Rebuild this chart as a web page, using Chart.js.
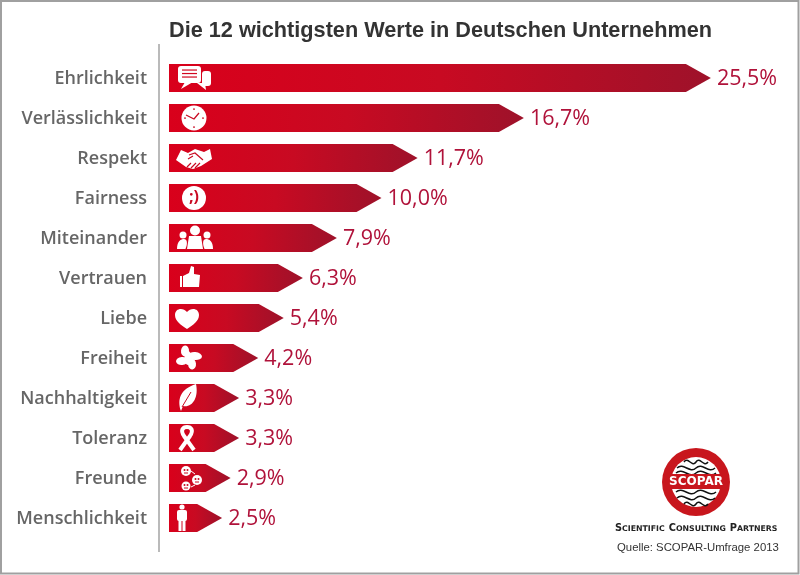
<!DOCTYPE html>
<html><head><meta charset="utf-8">
<script src="https://cdn.jsdelivr.net/npm/chart.js@4"></script>
<style>
html,body{margin:0;padding:0;background:#fff;overflow:hidden}
#wrap{position:relative;width:800px;height:575px}
canvas{display:block}
</style></head><body>
<div id="wrap"><canvas id="c" width="800" height="575"></canvas></div>
<script>
const categories=["Ehrlichkeit","Verlässlichkeit","Respekt","Fairness","Miteinander","Vertrauen","Liebe","Freiheit","Nachhaltigkeit","Toleranz","Freunde","Menschlichkeit"];
const values=[25.5,16.7,11.7,10.0,7.9,6.3,5.4,4.2,3.3,3.3,2.9,2.5];
const valueLabels=["25,5%","16,7%","11,7%","10,0%","7,9%","6,3%","5,4%","4,2%","3,3%","3,3%","2,9%","2,5%"];
const titleText="Die 12 wichtigsten Werte in Deutschen Unternehmen";
const sourceText="Quelle: SCOPAR-Umfrage 2013";

function circle(c,x,y,r){c.beginPath();c.arc(x,y,r,0,Math.PI*2);c.fill();}
const icons=[
 function(c){ // speech bubbles
  c.beginPath();c.roundRect(-16,-12,23,17,3);c.fill();
  c.beginPath();c.moveTo(-9,4);c.lineTo(-13,11);c.lineTo(-1,4);c.fill();
  c.beginPath();c.roundRect(8,-7,9,15,3);c.fill();
  c.beginPath();c.moveTo(3,5);c.lineTo(12,12);c.lineTo(11,5);c.fill();
  c.strokeStyle="#d2061f";c.lineWidth=1.2;
  [-8,-4.5,-1].forEach(y=>{c.beginPath();c.moveTo(-12,y);c.lineTo(3,y);c.stroke();});
 },
 function(c){ // clock
  circle(c,0,0,12.5);c.strokeStyle="#c90a22";c.lineWidth=1.3;
  c.beginPath();c.moveTo(-8,-3);c.lineTo(0,1);c.lineTo(5,-5);c.stroke();
  [[0,-9],[0,9],[9,0],[-9,0]].forEach(p=>{c.fillStyle="#c90a22";circle(c,p[0],p[1],.9);});
 },
 function(c){ // handshake
  c.beginPath();c.moveTo(-18,2);c.lineTo(-13,-8);c.lineTo(-6,-5);c.lineTo(1,-9);c.lineTo(10,-6);c.lineTo(16,-9);c.lineTo(18,1);
  c.lineTo(7,8);c.lineTo(-1,11);c.lineTo(-8,9);c.closePath();c.fill();
  c.strokeStyle="#c90a22";c.lineWidth=1.2;
  c.beginPath();c.moveTo(-5,-3);c.lineTo(1,-5);c.lineTo(9,2);c.moveTo(-6,1);c.lineTo(-1,-2);
  c.moveTo(-3,10);c.lineTo(2,5);c.moveTo(1,10);c.lineTo(6,5);c.moveTo(-7,9);c.lineTo(-3,5);c.stroke();
 },
 function(c){ // wink
  circle(c,0,0,12);c.fillStyle="#c90a22";c.font="bold 16px 'Open Sans'";c.textAlign="center";c.textBaseline="middle";
  c.fillText(";)",0,-1);
 },
 function(c){ // people
  circle(c,0,-7.5,5);circle(c,-12,-3,3.5);circle(c,12,-3,3.5);
  c.beginPath();c.moveTo(-8,11);c.lineTo(-6,-2);c.lineTo(6,-2);c.lineTo(8,11);c.closePath();c.fill();
  c.beginPath();c.moveTo(-18,11);c.bezierCurveTo(-18,3,-14,1,-11,1);c.bezierCurveTo(-8,1,-7,5,-9.5,11);c.closePath();c.fill();
  c.beginPath();c.moveTo(18,11);c.bezierCurveTo(18,3,14,1,11,1);c.bezierCurveTo(8,1,7,5,9.5,11);c.closePath();c.fill();
 },
 function(c){ // thumb
  c.beginPath();c.rect(-10,-2,2,11);c.fill();
  c.beginPath();c.moveTo(-7,-2);c.lineTo(-1,-5);c.lineTo(1,-12);c.lineTo(4,-11);c.lineTo(4,-4);c.lineTo(10,-3);c.lineTo(9,9);c.lineTo(-7,9);c.closePath();c.fill();
 },
 function(c){ // heart
  c.beginPath();c.moveTo(0,11);c.bezierCurveTo(-6,7,-12,3,-12,-3);c.bezierCurveTo(-12,-10,-4,-11,0,-6);
  c.bezierCurveTo(4,-11,12,-10,12,-3);c.bezierCurveTo(12,3,6,7,0,11);c.fill();
 },
 function(c){ // butterfly
  c.beginPath();c.ellipse(-4,-7,4,5.5,.1,0,7);c.fill();
  c.beginPath();c.ellipse(6,-2,7,4,.1,0,7);c.fill();
  c.beginPath();c.ellipse(-7,3,6,4,-.1,0,7);c.fill();
  c.beginPath();c.ellipse(3,6,4,5.5,-.1,0,7);c.fill();
  c.beginPath();c.ellipse(-1,0,3.5,7,0,0,7);c.fill();
 },
 function(c){ // leaf
  c.beginPath();c.moveTo(-7,13);c.bezierCurveTo(-11,2,-8,-9,8,-14);c.bezierCurveTo(11,0,4,10,-5,8);c.closePath();c.fill();
  c.strokeStyle="#c90a22";c.lineWidth=1;c.beginPath();c.moveTo(-6,9);c.lineTo(3,-6);c.stroke();
 },
 function(c){ // ribbon
  c.lineWidth=4;c.strokeStyle="#fff";
  c.beginPath();c.moveTo(-7,12);c.lineTo(3,-2);c.bezierCurveTo(7,-8,4,-11,0,-11);c.bezierCurveTo(-4,-11,-7,-8,-3,-2);c.lineTo(7,12);c.stroke();
 },
 function(c){ // friends
  const f=[[-2,-7,5],[9,2,5],[-2,8,4.5]];
  c.strokeStyle="#fff";c.lineWidth=1;
  c.beginPath();c.moveTo(3,-7);c.lineTo(7,-4);c.moveTo(3,9);c.lineTo(7,7);c.stroke();
  f.forEach(p=>{c.fillStyle="#fff";circle(c,p[0],p[1],p[2]);c.fillStyle="#c90a22";circle(c,p[0]-1.5,p[1]-1,1);circle(c,p[0]+1.5,p[1]-1,1);
    c.fillRect(p[0]-2,p[1]+1.5,4,1);});
 },
 function(c){ // person
  circle(c,0,-11,2.6);
  c.beginPath();c.roundRect(-5,-8,10,11,2);c.fill();
  c.fillRect(-3.5,2,3,11);c.fillRect(.5,2,3,11);
 }
];
const iconX=[25,25,25,25,26,21,18,20,19,18,19,13];

const arrowBars={
 id:"arrowBars",
 afterLayout(chart){
  chart.titleBlock.left=169;chart.titleBlock.right=712;
 },
 beforeDatasetDraw(chart,args){
  const c=chart.ctx,meta=args.meta,y=chart.scales.y;
  c.save();
  c.strokeStyle="#8c8c8c";c.lineWidth=1.2;
  c.beginPath();c.moveTo(chart.chartArea.left,y.top-14);c.lineTo(chart.chartArea.left,y.bottom+14);c.stroke();
  meta.data.forEach((bar,i)=>{
   const h=bar.height/2,head=25;
   const g=c.createLinearGradient(bar.base,0,bar.x,0);
   g.addColorStop(0,"#d9001b");g.addColorStop(.5,"#c80a22");g.addColorStop(1,"#9e122a");
   c.fillStyle=g;
   c.beginPath();c.moveTo(bar.base,bar.y-h);c.lineTo(bar.x-head,bar.y-h);c.lineTo(bar.x,bar.y);
   c.lineTo(bar.x-head,bar.y+h);c.lineTo(bar.base,bar.y+h);c.closePath();c.fill();
   c.fillStyle="#b0123a";c.font="21.5px 'Open Sans'";c.textAlign="left";c.textBaseline="middle";
   c.fillText(valueLabels[i],bar.x+6,bar.y+1);
   c.save();c.translate(bar.base+iconX[i],bar.y);c.fillStyle="#fff";icons[i](c);c.restore();
  });
  c.restore();
  return false;
 },
 afterDraw(chart){
  const c=chart.ctx;c.save();
  // frame
  c.strokeStyle="#a0a0a0";c.lineWidth=2;c.strokeRect(1,1,797.5,572.5);
  // logo
  const x=696,y=482;
  c.fillStyle="#c8161d";circle(c,x,y,34);
  c.fillStyle="#fff";circle(c,x,y,25);
  c.strokeStyle="#111";c.lineWidth=1.5;
  [[-20,12],[-14,19],[-9,20],[10,20],[16,19],[22,12]].forEach(o=>{
   const w=o[1],m=y+o[0];
   c.beginPath();c.moveTo(x-w,m);
   c.bezierCurveTo(x-w*.66,m-6,x-w*.33,m+6,x,m);
   c.bezierCurveTo(x+w*.33,m-6,x+w*.66,m+6,x+w,m);c.stroke();
  });
  c.fillStyle="#c8161d";c.fillRect(x-33,y-8,66,15);
  c.fillStyle="#fff";c.font="bold 12px 'DejaVu Sans'";c.textAlign="center";c.textBaseline="middle";
  c.fillText("SCOPAR",x,y);
  c.fillStyle="#222";c.textAlign="left";c.textBaseline="alphabetic";
  let px=615;
  "Scientific Consulting Partners".split(" ").forEach(w=>{
   c.font="bold 9.8px 'DejaVu Sans'";c.fillText(w[0],px,531);px+=c.measureText(w[0]).width;
   c.font="bold 7.8px 'DejaVu Sans'";const r=w.slice(1).toUpperCase();c.fillText(r,px,531);px+=c.measureText(r).width+4;
  });
  c.fillStyle="#333";c.font="11.35px 'Liberation Sans'";c.fillText(sourceText,617,551);
  c.restore();
 }
};

new Chart(document.getElementById("c"),{
 type:"bar",
 data:{labels:categories,datasets:[{data:values,backgroundColor:"#c90a22",barThickness:28}]},
 plugins:[arrowBars],
 options:{
  indexAxis:"y",responsive:false,animation:false,devicePixelRatio:1,
  layout:{padding:{left:0,right:10,top:0,bottom:37}},
  plugins:{legend:{display:false},tooltip:{enabled:false},
   title:{display:true,text:titleText,align:"center",color:"#333",
    font:{family:"'Liberation Sans'",size:21.7,weight:"bold",lineHeight:1.2},padding:{top:18,bottom:14}}},
  scales:{
   x:{display:false,type:"linear",min:-10/21.25,max:-10/21.25+631/21.25},
   y:{type:"category",offset:true,afterFit(s){s.width=159;},
    grid:{display:false,drawTicks:false},border:{display:false},
    ticks:{color:"#666",padding:12,autoSkip:false,labelOffset:1,font:{family:"'Open Sans'",size:18,weight:"600"}}}
  }
 }
});
</script></body></html>
